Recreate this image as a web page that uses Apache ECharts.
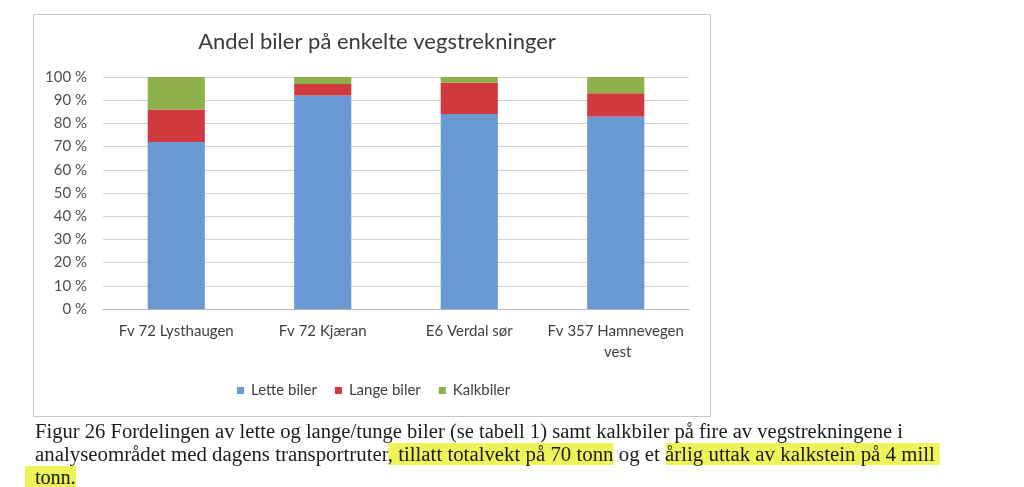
<!DOCTYPE html>
<html>
<head>
<meta charset="utf-8">
<script src="https://cdn.jsdelivr.net/npm/echarts@6/dist/echarts.min.js"></script>
<style>
  html, body { margin: 0; padding: 0; background: #ffffff; }
  #wrap { position: relative; width: 1024px; height: 487px; overflow: hidden; background: #ffffff; }
  #chart { position: absolute; left: 0; top: 0; width: 1024px; height: 487px; }
  .cap { position: absolute; left: 35px; white-space: pre; font-family: "Liberation Serif", "DejaVu Serif", serif;
         font-size: 20px; line-height: 23px; color: #1c1c1c; transform-origin: 0 0; }
  .hl { background: #eef35a; }
</style>
</head>
<body>
<div id="wrap">
  <div id="chart"></div>
  <div class="cap" id="l1" style="top:420px">Figur 26 Fordelingen av lette og lange/tunge biler (se tabell 1) samt kalkbiler på fire av vegstrekningene i</div>
  <div class="cap" id="l2" style="top:443px">analyseområdet med dagens transportruter<span class="hl">, tillatt totalvekt på 70 tonn</span> og et <span class="hl">årlig uttak av kalkstein på 4 mill </span></div>
  <div class="cap" id="l3" style="top:466px;left:25px"><span class="hl">  tonn.</span></div>
</div>
<script>
// ---- data ----
const title = 'Andel biler på enkelte vegstrekninger';
const categories = ['Fv 72 Lysthaugen', 'Fv 72 Kjæran', 'E6 Verdal sør', 'Fv 357 Hamnevegen vest'];
const seriesNames = ['Lette biler', 'Lange biler', 'Kalkbiler'];
const letteBiler = [72, 92, 84, 83];
const langeBiler = [14, 5, 13.5, 10];
const kalkbiler = [14, 3, 2.5, 7];
const yMin = 0, yMax = 100, yStep = 10;

// ---- chart ----
const chart = echarts.init(document.getElementById('chart'), null, { renderer: 'canvas' });
const colors = ['#6A98D2', '#D0393E', '#8DB04B'];
const labelFont = 'Lato';
const option = {
  backgroundColor: 'transparent',
  animation: false,
  color: colors,
  title: {
    text: title,
    left: 372, top: 26, textAlign: 'center',
    textStyle: { fontFamily: labelFont, fontSize: 22, fontWeight: 'normal', color: '#3a3a3a' }
  },
  legend: {
    data: seriesNames,
    left: 232, top: 378,
    itemWidth: 7, itemHeight: 7, itemGap: 18,
    icon: 'rect',
    textStyle: { fontFamily: labelFont, fontSize: 15, color: '#404040', padding: [0, 0, 0, 2] }
  },
  grid: { left: 103, right: 335, top: 77, bottom: 178, containLabel: false },
  xAxis: {
    type: 'category',
    data: categories,
    axisTick: { show: false },
    axisLine: { show: true, lineStyle: { color: '#b8b8b8', width: 1 } },
    axisLabel: {
      interval: 0, margin: 12, color: '#404040', fontFamily: labelFont, fontSize: 15,
      lineHeight: 21, width: 140, overflow: 'break'
    }
  },
  yAxis: {
    type: 'value', min: yMin, max: yMax, interval: yStep,
    axisLine: { show: false }, axisTick: { show: false },
    splitLine: { lineStyle: { color: '#d4d4d4', width: 1 } },
    axisLabel: { formatter: '{value} %', margin: 16, color: '#505050', fontFamily: labelFont, fontSize: 15 }
  },
  graphic: [{
    type: 'rect', shape: { x: 33.5, y: 14.5, width: 677, height: 402 },
    style: { fill: 'none', stroke: '#c6c6c6', lineWidth: 1 }, z: -1
  }],
  series: [
    { name: seriesNames[0], type: 'bar', stack: 'total', data: letteBiler, barWidth: '39%' },
    { name: seriesNames[1], type: 'bar', stack: 'total', data: langeBiler, barWidth: '39%' },
    { name: seriesNames[2], type: 'bar', stack: 'total', data: kalkbiler, barWidth: '39%' }
  ]
};
chart.setOption(option);

// fit caption lines to the scanned widths
function fit(id, target) {
  const el = document.getElementById(id);
  const w = el.getBoundingClientRect().width;
  if (w > 0) el.style.transform = 'scaleX(' + (target / w) + ')';
}
fit('l1', 868);
fit('l2', 905);
</script>
</body>
</html>
